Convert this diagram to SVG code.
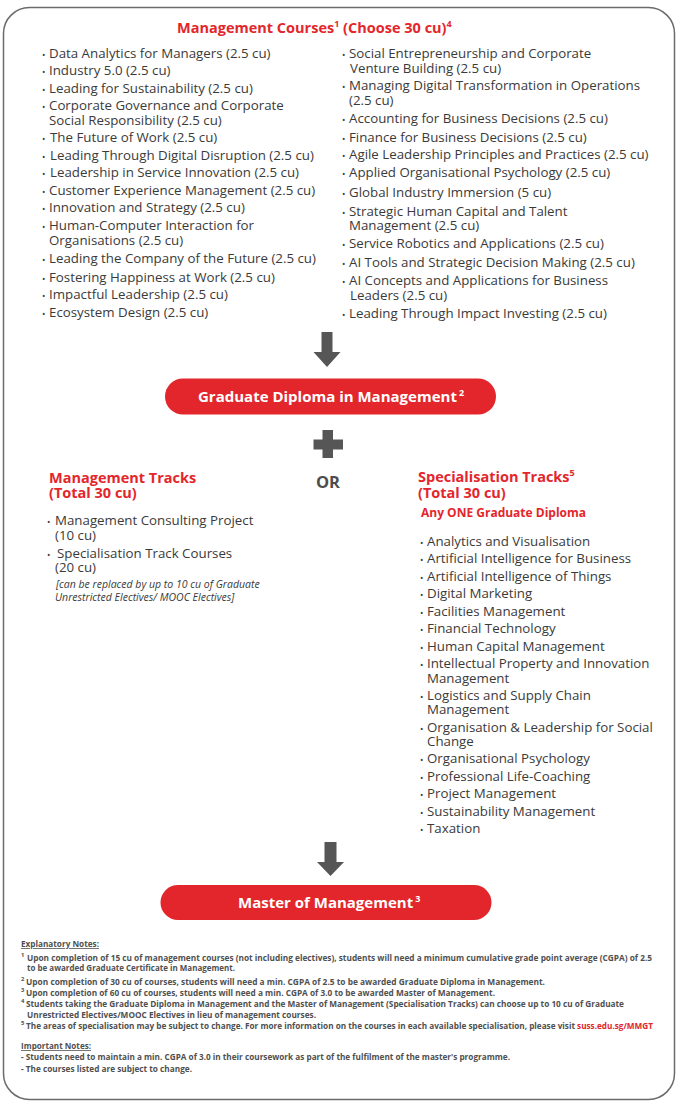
<svg xmlns="http://www.w3.org/2000/svg" width="680" height="1108" viewBox="0 0 680 1108">
<defs>
<style>
text{font-family:"Open Sans","Liberation Sans",sans-serif;}
.li{font-size:13.3px;fill:#3a3a3a;}
.bu{font-size:9px;fill:#3a3a3a;}
.h{font-size:14.5px;font-weight:700;fill:#e3262b;}
.sup{font-size:9px;}
.pill{fill:#e3262b;}
.pt{font-size:15px;font-weight:700;fill:#ffffff;}
.it{font-size:10.5px;font-style:italic;fill:#3a3a3a;}
.or{font-size:16.5px;font-weight:700;fill:#4d4d4d;}
.n{font-size:7.9px;font-weight:700;fill:#505050;}
.ns{font-size:5.8px;font-weight:700;fill:#505050;}
.u{text-decoration:underline;}
.lnk{fill:#e3262b;}
.arr{fill:#565656;}
</style>
</defs>
<rect x="0" y="0" width="680" height="1108" fill="#ffffff"/>
<rect x="3.5" y="7.5" width="671" height="1092" rx="26" ry="26" fill="#ffffff" stroke="#6b6b6b" stroke-width="1.5"/>

<g id="courses">
<text class="h" x="177" y="33">Management Courses<tspan class="sup" dy="-6">1</tspan><tspan dy="6"> (Choose 30 cu)</tspan><tspan class="sup" dy="-6">4</tspan></text>
<g id="courses-left" class="li">
<text y="58"><tspan class="bu" x="42">•</tspan><tspan x="49">Data Analytics for Managers (2.5 cu)</tspan></text>
<text y="75"><tspan class="bu" x="42">•</tspan><tspan x="49">Industry 5.0 (2.5 cu)</tspan></text>
<text y="92.5"><tspan class="bu" x="42">•</tspan><tspan x="49">Leading for Sustainability (2.5 cu)</tspan></text>
<text y="110"><tspan class="bu" x="42">•</tspan><tspan x="49">Corporate Governance and Corporate</tspan></text>
<text y="125"><tspan x="49">Social Responsibility (2.5 cu)</tspan></text>
<text y="141.5"><tspan class="bu" x="42">•</tspan><tspan x="50">The Future of Work (2.5 cu)</tspan></text>
<text y="159.5"><tspan class="bu" x="42">•</tspan><tspan x="50">Leading Through Digital Disruption (2.5 cu)</tspan></text>
<text y="176.5"><tspan class="bu" x="42">•</tspan><tspan x="50">Leadership in Service Innovation (2.5 cu)</tspan></text>
<text y="195"><tspan class="bu" x="42">•</tspan><tspan x="49">Customer Experience Management (2.5 cu)</tspan></text>
<text y="211.5"><tspan class="bu" x="42">•</tspan><tspan x="49">Innovation and Strategy (2.5 cu)</tspan></text>
<text y="229.5"><tspan class="bu" x="42">•</tspan><tspan x="49">Human-Computer Interaction for</tspan></text>
<text y="244.5"><tspan x="49">Organisations (2.5 cu)</tspan></text>
<text y="263"><tspan class="bu" x="42">•</tspan><tspan x="49">Leading the Company of the Future (2.5 cu)</tspan></text>
<text y="281.5"><tspan class="bu" x="42">•</tspan><tspan x="49">Fostering Happiness at Work (2.5 cu)</tspan></text>
<text y="299"><tspan class="bu" x="42">•</tspan><tspan x="49">Impactful Leadership (2.5 cu)</tspan></text>
<text y="316.5"><tspan class="bu" x="42">•</tspan><tspan x="49">Ecosystem Design (2.5 cu)</tspan></text>
</g>
<g id="courses-right" class="li">
<text y="58"><tspan class="bu" x="342">•</tspan><tspan x="349">Social Entrepreneurship and Corporate</tspan></text>
<text y="72.5"><tspan x="350">Venture Building (2.5 cu)</tspan></text>
<text y="90"><tspan class="bu" x="342">•</tspan><tspan x="349">Managing Digital Transformation in Operations</tspan></text>
<text y="105"><tspan x="349">(2.5 cu)</tspan></text>
<text y="123"><tspan class="bu" x="342">•</tspan><tspan x="349">Accounting for Business Decisions (2.5 cu)</tspan></text>
<text y="141.5"><tspan class="bu" x="342">•</tspan><tspan x="349">Finance for Business Decisions (2.5 cu)</tspan></text>
<text y="159"><tspan class="bu" x="342">•</tspan><tspan x="349">Agile Leadership Principles and Practices (2.5 cu)</tspan></text>
<text y="177"><tspan class="bu" x="342">•</tspan><tspan x="349">Applied Organisational Psychology (2.5 cu)</tspan></text>
<text y="196.5"><tspan class="bu" x="342">•</tspan><tspan x="349">Global Industry Immersion (5 cu)</tspan></text>
<text y="215.5"><tspan class="bu" x="342">•</tspan><tspan x="349">Strategic Human Capital and Talent</tspan></text>
<text y="230"><tspan x="349">Management (2.5 cu)</tspan></text>
<text y="248"><tspan class="bu" x="342">•</tspan><tspan x="349">Service Robotics and Applications (2.5 cu)</tspan></text>
<text y="266.5"><tspan class="bu" x="342">•</tspan><tspan x="349">AI Tools and Strategic Decision Making (2.5 cu)</tspan></text>
<text y="285"><tspan class="bu" x="342">•</tspan><tspan x="349">AI Concepts and Applications for Business</tspan></text>
<text y="300"><tspan x="350">Leaders (2.5 cu)</tspan></text>
<text y="318"><tspan class="bu" x="342">•</tspan><tspan x="349">Leading Through Impact Investing (2.5 cu)</tspan></text>
</g>
</g>

<g id="connectors">
<polygon class="arr" points="321.5,332 332.5,332 332.5,352 340.5,352 327,367 313.5,352 321.5,352"/>
<polygon class="arr" points="324.5,842 336.5,842 336.5,862 344,862 330.5,876 317,862 324.5,862"/>
</g>

<g id="graduate-diploma">
<rect class="pill" x="165" y="378.5" width="331" height="36" rx="18" ry="18"/>
<text class="pt" x="198" y="402">Graduate Diploma in Management<tspan class="sup" dx="2" dy="-6">2</tspan></text>
</g>

<g id="plus">
<rect class="arr" x="322.5" y="430" width="10.5" height="28"/>
<rect class="arr" x="313.5" y="439.5" width="29.5" height="10"/>
</g>

<g id="or">
<text class="or" x="328" y="488" text-anchor="middle">OR</text>
</g>

<g id="management-tracks">
<text class="h" x="49" y="482.5">Management Tracks</text>
<text class="h" x="49" y="498">(Total 30 cu)</text>
<g class="li">
<text y="525"><tspan class="bu" x="47">•</tspan><tspan x="55">Management Consulting Project</tspan></text>
<text y="539.5"><tspan x="55">(10 cu)</tspan></text>
<text y="557.5"><tspan class="bu" x="47">•</tspan><tspan x="57">Specialisation Track Courses</tspan></text>
<text y="571.5"><tspan x="55">(20 cu)</tspan></text>
</g>
<text class="it" x="56" y="588">[can be replaced by up to 10 cu of Graduate</text>
<text class="it" x="55" y="600.5">Unrestricted Electives/ MOOC Electives]</text>
</g>

<g id="specialisation-tracks">
<text class="h" x="418" y="482">Specialisation Tracks<tspan class="sup" dy="-6">5</tspan></text>
<text class="h" x="418" y="497.5">(Total 30 cu)</text>
<text class="h" x="421" y="517" style="font-size:12px">Any ONE Graduate Diploma</text>
<g class="li">
<text y="546"><tspan class="bu" x="420">•</tspan><tspan x="427">Analytics and Visualisation</tspan></text>
<text y="563"><tspan class="bu" x="420">•</tspan><tspan x="427">Artificial Intelligence for Business</tspan></text>
<text y="580.5"><tspan class="bu" x="420">•</tspan><tspan x="427">Artificial Intelligence of Things</tspan></text>
<text y="598"><tspan class="bu" x="420">•</tspan><tspan x="427">Digital Marketing</tspan></text>
<text y="615.5"><tspan class="bu" x="420">•</tspan><tspan x="427">Facilities Management</tspan></text>
<text y="633"><tspan class="bu" x="420">•</tspan><tspan x="427">Financial Technology</tspan></text>
<text y="650.5"><tspan class="bu" x="420">•</tspan><tspan x="427">Human Capital Management</tspan></text>
<text y="668"><tspan class="bu" x="420">•</tspan><tspan x="427">Intellectual Property and Innovation</tspan></text>
<text y="682.5"><tspan x="427">Management</tspan></text>
<text y="700"><tspan class="bu" x="420">•</tspan><tspan x="427">Logistics and Supply Chain</tspan></text>
<text y="714"><tspan x="427">Management</tspan></text>
<text y="731.5"><tspan class="bu" x="420">•</tspan><tspan x="427">Organisation &amp; Leadership for Social</tspan></text>
<text y="746"><tspan x="427">Change</tspan></text>
<text y="763"><tspan class="bu" x="420">•</tspan><tspan x="427">Organisational Psychology</tspan></text>
<text y="780.5"><tspan class="bu" x="420">•</tspan><tspan x="427">Professional Life-Coaching</tspan></text>
<text y="798"><tspan class="bu" x="420">•</tspan><tspan x="427">Project Management</tspan></text>
<text y="815.5"><tspan class="bu" x="420">•</tspan><tspan x="427">Sustainability Management</tspan></text>
<text y="833"><tspan class="bu" x="420">•</tspan><tspan x="427">Taxation</tspan></text>
</g>
</g>

<g id="master">
<rect class="pill" x="160.5" y="885" width="331" height="35" rx="17.5" ry="17.5"/>
<text class="pt" x="238" y="908">Master of Management<tspan class="sup" dx="2" dy="-6">3</tspan></text>
</g>

<g id="notes">
<text class="n u" x="21" y="947" textLength="78" lengthAdjust="spacingAndGlyphs">Explanatory Notes:</text>
<text class="ns" x="21" y="957">1</text>
<text class="n" x="27" y="961" textLength="625" lengthAdjust="spacingAndGlyphs">Upon completion of 15 cu of management courses (not including electives), students will need a minimum cumulative grade point average (CGPA) of 2.5</text>
<text class="n" x="27" y="971" textLength="208" lengthAdjust="spacingAndGlyphs">to be awarded Graduate Certificate in Management.</text>
<text class="ns" x="21" y="981">2</text>
<text class="n" x="26" y="985" textLength="519" lengthAdjust="spacingAndGlyphs">Upon completion of 30 cu of courses, students will need a min. CGPA of 2.5 to be awarded Graduate Diploma in Management.</text>
<text class="ns" x="21" y="992">3</text>
<text class="n" x="26" y="996" textLength="469" lengthAdjust="spacingAndGlyphs">Upon completion of 60 cu of courses, students will need a min. CGPA of 3.0 to be awarded Master of Management.</text>
<text class="ns" x="21" y="1003">4</text>
<text class="n" x="26" y="1007" textLength="598" lengthAdjust="spacingAndGlyphs">Students taking the Graduate Diploma in Management and the Master of Management (Specialisation Tracks) can choose up to 10 cu of Graduate</text>
<text class="n" x="27" y="1018" textLength="289" lengthAdjust="spacingAndGlyphs">Unrestricted Electives/MOOC Electives in lieu of management courses.</text>
<text class="ns" x="21" y="1025">5</text>
<text class="n" x="26" y="1029" textLength="627" lengthAdjust="spacingAndGlyphs">The areas of specialisation may be subject to change. For more information on the courses in each available specialisation, please visit <tspan class="lnk">suss.edu.sg/MMGT</tspan></text>
<text class="n u" x="21" y="1049" textLength="70" lengthAdjust="spacingAndGlyphs">Important Notes:</text>
<text class="n" x="21" y="1060" textLength="489" lengthAdjust="spacingAndGlyphs">- Students need to maintain a min. CGPA of 3.0 in their coursework as part of the fulfilment of the master's programme.</text>
<text class="n" x="21" y="1072" textLength="171" lengthAdjust="spacingAndGlyphs">- The courses listed are subject to change.</text>
</g>
</svg>
